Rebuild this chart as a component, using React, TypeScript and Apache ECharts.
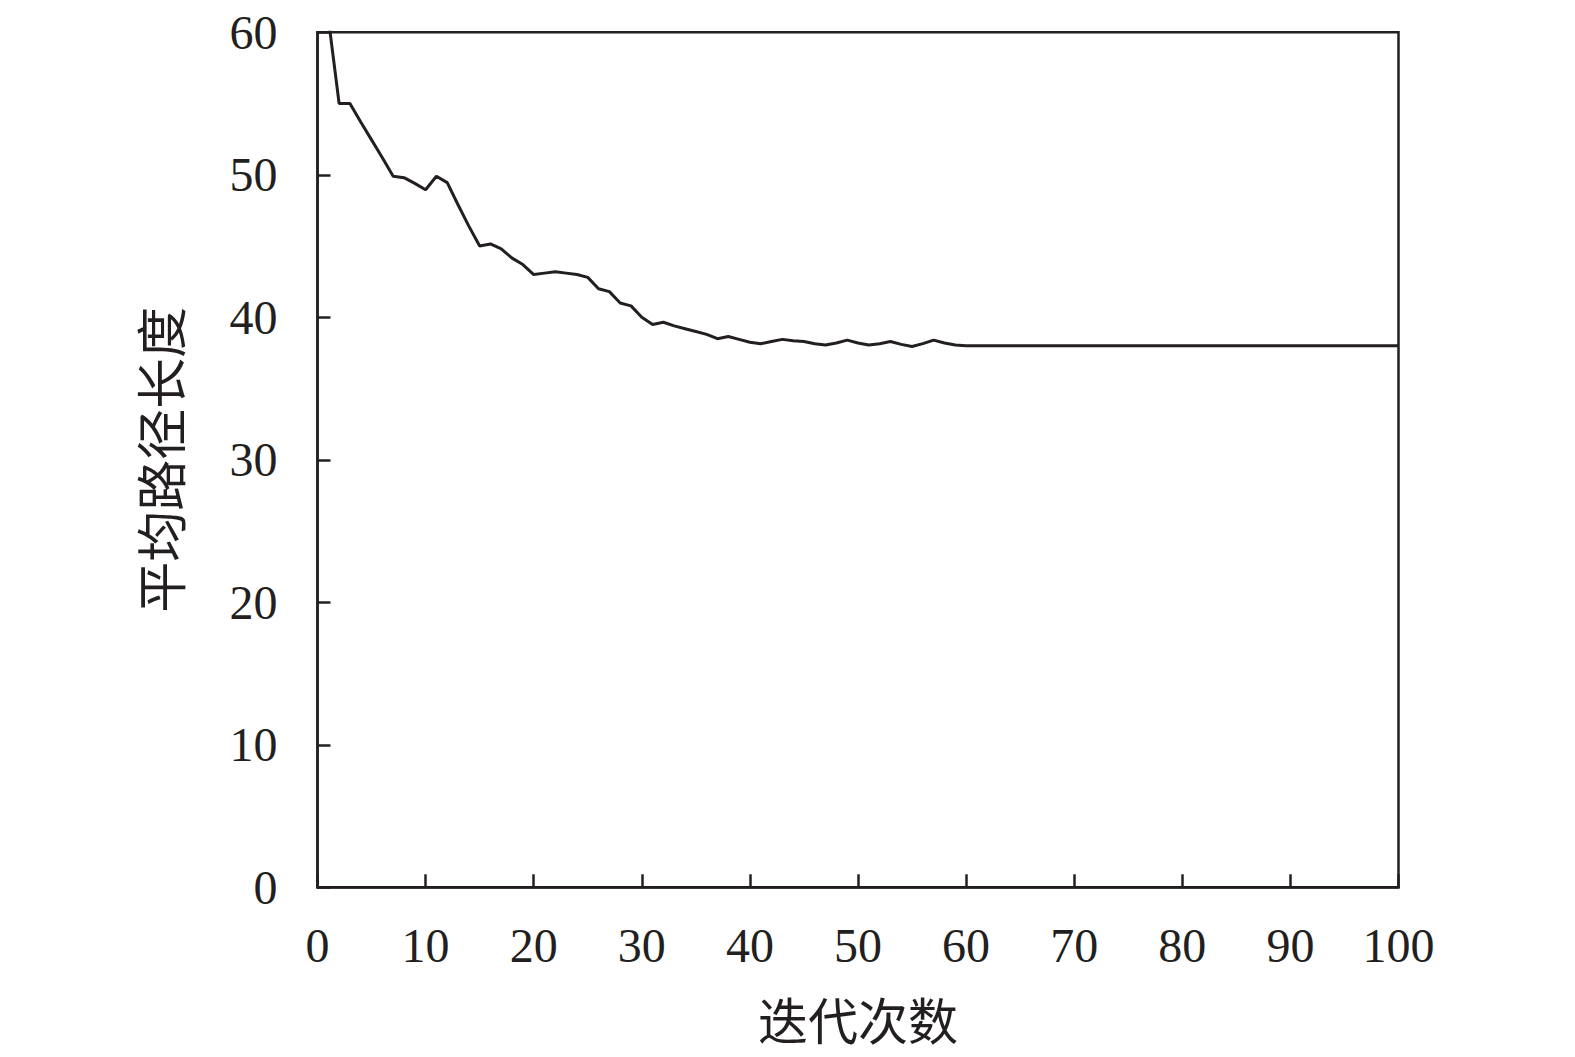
import React, { useEffect, useRef } from "react";
import * as echarts from "echarts";

const iterations: number[] = Array.from({ length: 100 }, (_, i) => i + 1);
const avgPathLength: number[] = [
  61, 55, 55, 53.7, 52.45, 51.2, 49.9, 49.8, 49.4, 48.95,
  49.9, 49.45, 47.9, 46.4, 45.0, 45.15, 44.8, 44.15, 43.7, 43.0,
  43.1, 43.2, 43.1, 43.0, 42.8, 42.0, 41.8, 41.0, 40.8, 40.0,
  39.5, 39.65, 39.4, 39.2, 39.0, 38.8, 38.5, 38.65, 38.45, 38.25,
  38.15, 38.3, 38.45, 38.35, 38.3, 38.15, 38.05, 38.2, 38.4, 38.2,
  38.05, 38.15, 38.3, 38.1, 37.95, 38.15, 38.4, 38.2, 38.05, 38.0,
  38.0, 38.0, 38.0, 38.0, 38.0, 38.0, 38.0, 38.0, 38.0, 38.0,
  38.0, 38.0, 38.0, 38.0, 38.0, 38.0, 38.0, 38.0, 38.0, 38.0,
  38.0, 38.0, 38.0, 38.0, 38.0, 38.0, 38.0, 38.0, 38.0, 38.0,
  38.0, 38.0, 38.0, 38.0, 38.0, 38.0, 38.0, 38.0, 38.0, 38.0,
];
const xAxisTitle = "迭代次数";
const yAxisTitle = "平均路径长度";

const INK = "#231f20";
const NUM_FONT = "'Liberation Serif', 'Times New Roman', serif";
const CJK_FONT = "'Noto Sans CJK SC', sans-serif";

export default function App() {
  const ref = useRef<HTMLDivElement>(null);
  useEffect(() => {
    document.body.style.margin = "0";
    if (!ref.current) return;
    const chart = echarts.init(ref.current, undefined, { renderer: "svg" });
    chart.setOption({
      animation: false,
      backgroundColor: "#ffffff",
      grid: {
        left: 317.5,
        right: 176.5,
        top: 32.3,
        bottom: 169.7,
        show: true,
        borderColor: INK,
        borderWidth: 2.5,
        backgroundColor: "transparent",
      },
      xAxis: {
        type: "value",
        min: 0,
        max: 100,
        interval: 10,
        name: xAxisTitle,
        nameLocation: "middle",
        nameGap: 106,
        nameTextStyle: { fontFamily: CJK_FONT, fontSize: 50, lineHeight: 50, color: INK },
        axisLine: { show: true, onZero: false, lineStyle: { color: INK, width: 2.5 } },
        axisTick: { show: true, inside: true, length: 13, lineStyle: { color: INK, width: 2.5 } },
        axisLabel: { fontFamily: NUM_FONT, fontSize: 48, color: INK, margin: 34 },
        splitLine: { show: false },
      },
      yAxis: {
        type: "value",
        min: 0,
        max: 60,
        interval: 10,
        name: yAxisTitle,
        nameLocation: "middle",
        nameRotate: 90,
        nameGap: 133,
        nameTextStyle: { fontFamily: CJK_FONT, fontSize: 51, lineHeight: 51, color: INK },
        axisLine: { show: true, lineStyle: { color: INK, width: 2.5 } },
        axisTick: { show: true, inside: true, length: 13, lineStyle: { color: INK, width: 2.5 } },
        axisLabel: { fontFamily: NUM_FONT, fontSize: 48, color: INK, margin: 40 },
        splitLine: { show: false },
      },
      series: [
        {
          type: "line",
          data: iterations.map((x, i) => [x, avgPathLength[i]]),
          showSymbol: false,
          symbol: "none",
          clip: true,
          lineStyle: { color: INK, width: 3 },
        },
      ],
    });
    return () => chart.dispose();
  }, []);
  return <div ref={ref} style={{ width: 1575, height: 1057 }} />;
}
